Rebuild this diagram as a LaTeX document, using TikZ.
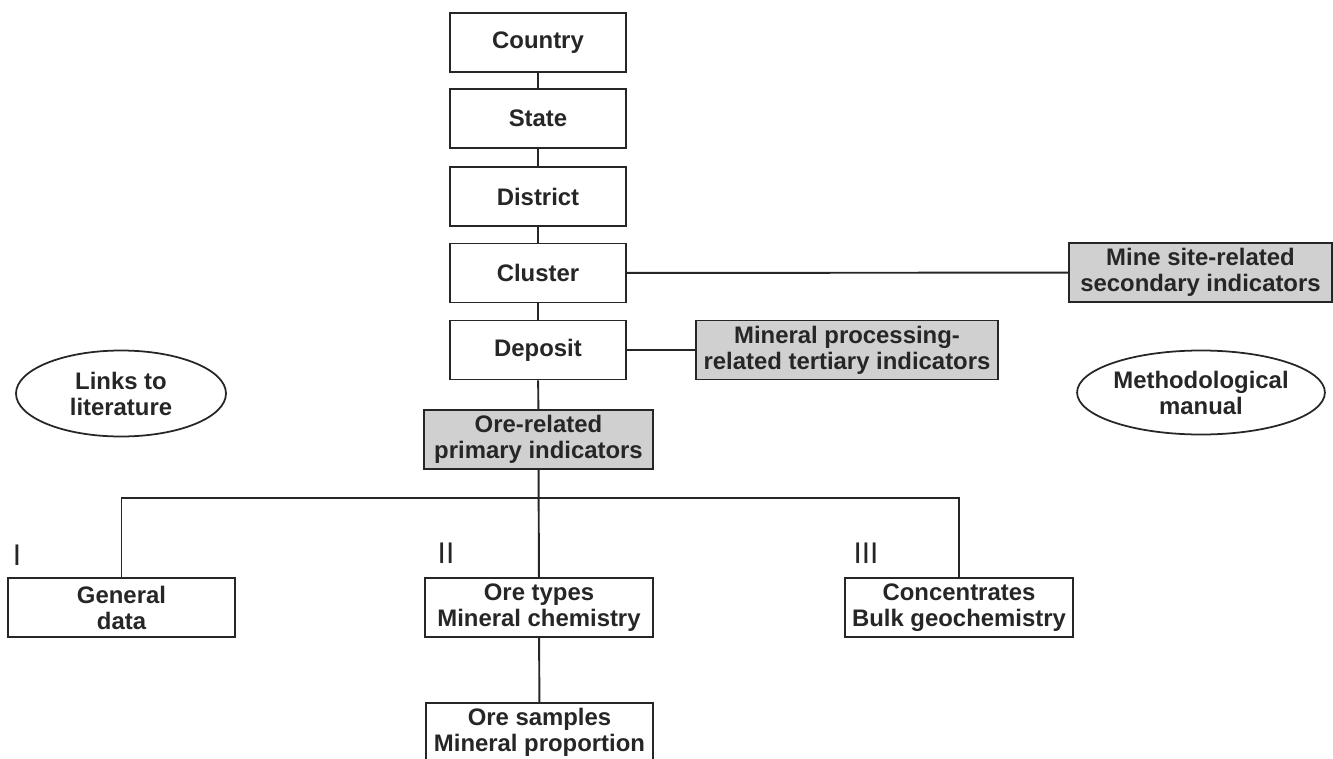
\documentclass[tikz,border=0pt]{standalone}
\usepackage{fontspec}
\setmainfont{Liberation Sans}
\usetikzlibrary{shapes.geometric}

\definecolor{boxgray}{RGB}{208,208,208}
\definecolor{ink}{RGB}{38,38,38}

\tikzset{
  label font/.style={font=\fontsize{13.6}{14.8}\selectfont\bfseries},
  box/.style={draw=ink, line width=1.1pt, fill=white, minimum height=1.18cm,
    inner sep=0pt, align=center, text=ink, label font},
  graybox/.style={box, fill=boxgray},
  oval/.style={ellipse, draw=ink, line width=1pt, minimum width=4.2cm,
    minimum height=1.72cm, inner sep=0pt, align=center, text=ink, label font},
  numeral/.style={text=ink, inner sep=0pt, font=\fontsize{17}{17}\selectfont},
  link/.style={draw=ink, line width=1.1pt}
}

\begin{document}
\begin{tikzpicture}
  \useasboundingbox (0,0) rectangle (26.66,-15.18);
  \clip (0,0) rectangle (26.66,-15.18);

  % hierarchy
  \node[box, minimum width=3.52cm] (country)  at (10.76,-0.85) {Country};
  \node[box, minimum width=3.52cm] (state)    at (10.76,-2.37) {State};
  \node[box, minimum width=3.52cm] (district) at (10.76,-3.93) {District};
  \node[box, minimum width=3.52cm] (cluster)  at (10.76,-5.46) {Cluster};
  \node[box, minimum width=3.52cm] (deposit)  at (10.76,-7.00) {Deposit};

  % indicators
  \node[graybox, minimum width=5.26cm] (minesite) at (24.01,-5.45)
    {Mine site-related\\secondary indicators};
  \node[graybox, minimum width=6.04cm] (processing) at (16.94,-7.00)
    {Mineral processing-\\related tertiary indicators};
  \node[graybox, minimum width=4.58cm] (orerelated) at (10.77,-8.79)
    {Ore-related\\primary indicators};

  % side notes
  \node[oval] (literature) at (2.42,-7.87) {Links to\\literature};
  \node[oval, minimum height=1.68cm] (manual) at (24.02,-7.85)
    {Methodological\\manual};

  % groups I-III
  \node[box, minimum width=4.54cm] (general)  at (2.43,-12.15)  {General\\data};
  \node[box, minimum width=4.56cm] (oretypes) at (10.78,-12.15) {Ore types\\Mineral chemistry};
  \node[box, minimum width=4.56cm] (concentr) at (19.18,-12.15) {Concentrates\\Bulk geochemistry};
  \node[box, minimum width=4.54cm] (samples)  at (10.79,-14.65) {Ore samples\\Mineral proportion};

  \node[numeral] (one)   at (0.34,-11.10) {I};
  \node[numeral] (two)   at (8.92,-11.06) {II};
  \node[numeral] (three) at (17.32,-11.06) {III};

  \coordinate (split) at (10.76,-9.96);

  % connectors
  \draw[link] (country) -- (state);
  \draw[link] (state) -- (district);
  \draw[link] (district) -- (cluster);
  \draw[link] (cluster) -- (deposit);
  \draw[link] (deposit) -- (orerelated);
  \draw[link] (cluster) -- (minesite);
  \draw[link] (deposit) -- (processing);
  \draw[link] (orerelated) -- (oretypes);
  \draw[link] (general.north) |- (split) -| (concentr.north);
  \draw[link] (oretypes) -- (samples);
\end{tikzpicture}
\end{document}
